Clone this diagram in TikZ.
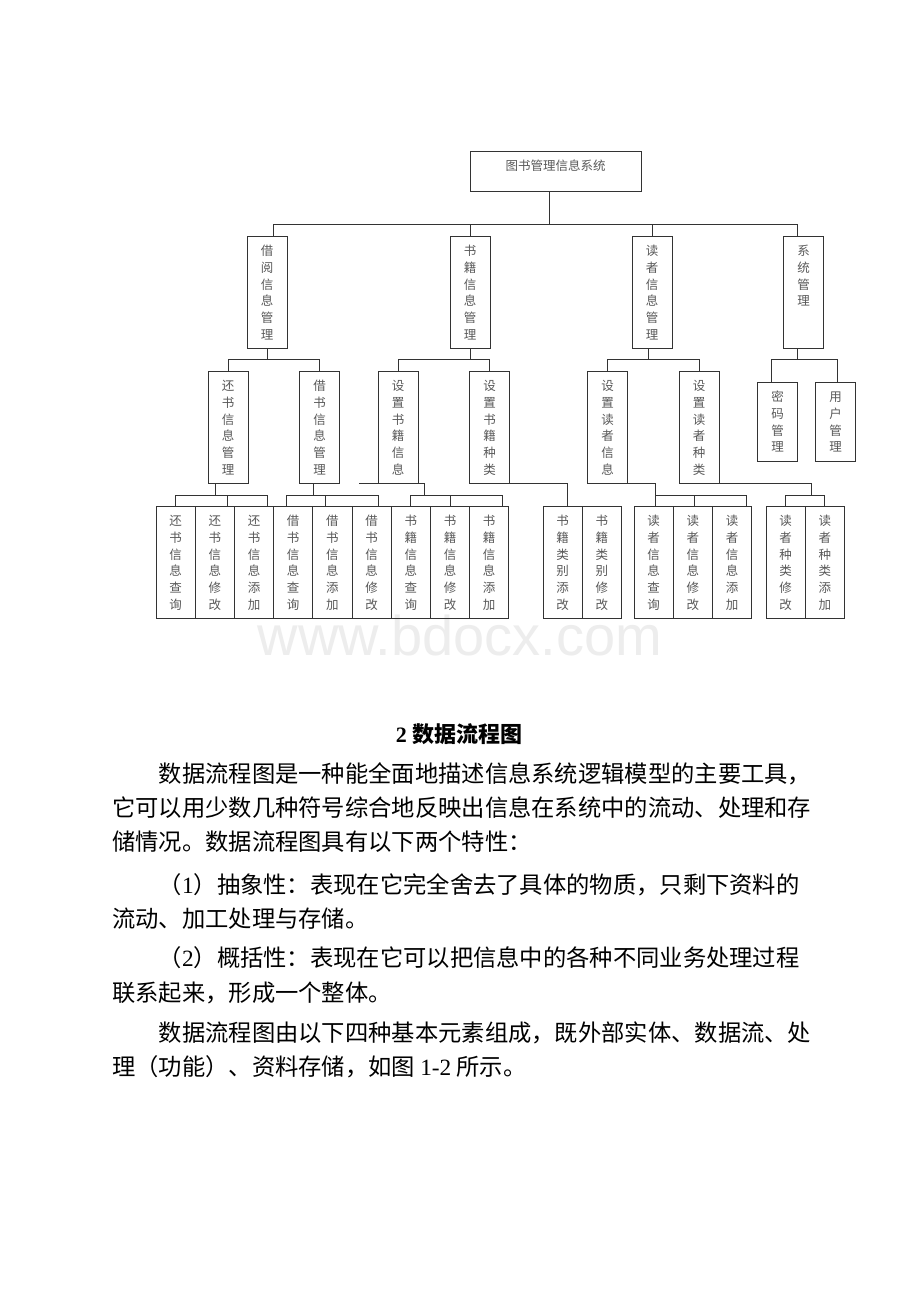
\documentclass[tikz,border=0pt]{standalone}
\usepackage{fontspec}
\setmainfont{Liberation Serif}
\newfontfamily\cjk{Noto Sans CJK SC}
\newfontfamily\wmark{Liberation Sans}
\usepackage{tikz}
\usetikzlibrary{positioning}
\tikzstyle{module} = [rectangle, draw=black!80, line width=1pt, inner sep=0pt, outer sep=0pt, minimum width=40pt, text=black!65, font=\cjk\fontsize{12.5}{16.8}\selectfont]
\tikzstyle{leaf} = [module, minimum width=39.2pt, anchor=north west]
\tikzstyle{link} = [draw=black!80, line width=1pt]
\tikzstyle{para} = [anchor=base west, inner sep=0pt, font=\cjk\fontsize{23.3}{23.3}\selectfont]
\newcommand{\vtxt}[2][112pt]{\parbox[c][#1][t]{16pt}{\centering\rule{0pt}{19.5pt}#2}}

\begin{document}
\begin{tikzpicture}[x=1pt, y=-1pt]
\path[fill=white] (0,0) rectangle (920,1302);

% watermark
\node (wm) [anchor=base, inner sep=0pt, text=black!7, font=\wmark\fontsize{56}{56}\selectfont] at (460,655) {www.bdocx.com};

% top
\node (root) [module, anchor=north, minimum width=171pt] at (555.5,151) {\parbox[c][40pt][t]{171pt}{\centering\rule{0pt}{19.5pt}图书管理信息系统}};

% level 1
\node (jieyue) [module, anchor=north] at (267,236) {\vtxt{借\\阅\\信\\息\\管\\理}};
\node (shuji) [module, anchor=north] at (470,236) {\vtxt{书\\籍\\信\\息\\管\\理}};
\node (duzhe) [module, anchor=north] at (652,236) {\vtxt{读\\者\\信\\息\\管\\理}};
\node (xitong) [module, anchor=north] at (803.5,236) {\vtxt{系\\统\\管\\理}};

% level 2
\node (huanshu) [module, anchor=north] at (228,371) {\vtxt{还\\书\\信\\息\\管\\理}};
\node (jieshu) [module, anchor=north] at (319.5,371) {\vtxt{借\\书\\信\\息\\管\\理}};
\node (szsjxx) [module, anchor=north] at (398,371) {\vtxt{设\\置\\书\\籍\\信\\息}};
\node (szsjzl) [module, anchor=north] at (489.5,371) {\vtxt{设\\置\\书\\籍\\种\\类}};
\node (szdzxx) [module, anchor=north] at (607.5,371) {\vtxt{设\\置\\读\\者\\信\\息}};
\node (szdzzl) [module, anchor=north] at (699,371) {\vtxt{设\\置\\读\\者\\种\\类}};
\node (mima) [module, anchor=north] at (777.5,382) {\vtxt[79pt]{密\\码\\管\\理}};
\node (yonghu) [module, anchor=north] at (835.5,382) {\vtxt[79pt]{用\\户\\管\\理}};

% level 3
\node (hs1) [leaf] at (156,506) {\vtxt{还\\书\\信\\息\\查\\询}};
\node (hs2) [leaf, right=0pt of hs1] {\vtxt{还\\书\\信\\息\\修\\改}};
\node (hs3) [leaf, right=0pt of hs2] {\vtxt{还\\书\\信\\息\\添\\加}};
\node (js1) [leaf, right=0pt of hs3] {\vtxt{借\\书\\信\\息\\查\\询}};
\node (js2) [leaf, right=0pt of js1] {\vtxt{借\\书\\信\\息\\添\\加}};
\node (js3) [leaf, right=0pt of js2] {\vtxt{借\\书\\信\\息\\修\\改}};
\node (sj1) [leaf, right=0pt of js3] {\vtxt{书\\籍\\信\\息\\查\\询}};
\node (sj2) [leaf, right=0pt of sj1] {\vtxt{书\\籍\\信\\息\\修\\改}};
\node (sj3) [leaf, right=0pt of sj2] {\vtxt{书\\籍\\信\\息\\添\\加}};
\node (lb1) [leaf] at (543,506) {\vtxt{书\\籍\\类\\别\\添\\改}};
\node (lb2) [leaf, right=0pt of lb1] {\vtxt{书\\籍\\类\\别\\修\\改}};
\node (dz1) [leaf] at (634,506) {\vtxt{读\\者\\信\\息\\查\\询}};
\node (dz2) [leaf, right=0pt of dz1] {\vtxt{读\\者\\信\\息\\修\\改}};
\node (dz3) [leaf, right=0pt of dz2] {\vtxt{读\\者\\信\\息\\添\\加}};
\node (zl1) [leaf] at (766,506) {\vtxt{读\\者\\种\\类\\修\\改}};
\node (zl2) [leaf, right=0pt of zl1] {\vtxt{读\\者\\种\\类\\添\\加}};

% connectors, level 1
\draw[link] ([xshift=-6.5pt]root.south) -- +(0,33);
\draw[link] ([xshift=6pt]jieyue.north) -- +(0,-12) -| ([xshift=-6.5pt]xitong.north);
\draw[link] (shuji.north) -- +(0,-12);
\draw[link] (duzhe.north) -- +(0,-12);

% connectors, level 2
\draw[link] (jieyue.south) -- +(0,11);
\draw[link] (huanshu.north) -- +(0,-12) -| (jieshu.north);
\draw[link] (shuji.south) -- +(0,11);
\draw[link] (szsjxx.north) -- +(0,-12) -| (szsjzl.north);
\draw[link] ([xshift=-4pt]duzhe.south) -- +(0,11);
\draw[link] (szdzxx.north) -- +(0,-12) -| (szdzzl.north);
\draw[link] ([xshift=-6.5pt]xitong.south) -- +(0,11);
\draw[link] ([xshift=-6.5pt]mima.north) -- +(0,-23) -| ([xshift=1.5pt]yonghu.north);

% connectors, level 3
\draw[link] ([xshift=-13pt]huanshu.south) -- +(0,12);
\draw[link] (hs1.north) -- +(0,-11) -| ([xshift=13pt]hs3.north);
\draw[link] ([xshift=13pt]hs2.north) -- +(0,-11);
\draw[link] ([xshift=-6.5pt]jieshu.south) -- +(0,12);
\draw[link] ([xshift=-6.5pt]js1.north) -- +(0,-11) -| ([xshift=7pt]js3.north);
\draw[link] ([xshift=-7pt]js2.north) -- +(0,-11);
\draw[link] ([xshift=-39pt]szsjxx.south) -- ([xshift=26pt]szsjxx.south) -- +(0,12);
\draw[link] (sj1.north) -- +(0,-11) -| ([xshift=13pt]sj3.north);
\draw[link] (sj2.north) -- +(0,-11);
\draw[link] (szsjzl.south east) -| ([xshift=5pt]lb1.north);
\draw[link] (szdzxx.south east) -- +(28,0) -- +(28,12);
\draw[link] ([xshift=2pt]dz1.north) -- +(0,-11) -| ([xshift=14pt]dz3.north);
\draw[link] ([xshift=1.5pt]dz2.north) -- +(0,-11);
\draw[link] (szdzzl.south east) -- +(92,0) -- +(92,12);
\draw[link] (zl1.north) -- +(0,-11) -| (zl2.north);

% text below
\node (title) [anchor=base, inner sep=0pt, font=\cjk\bfseries\fontsize{22}{22}\selectfont] at (459,742) {{\rmfamily 2} 数据流程图};
\node (p1a) [para] at (158.6,782) {数据流程图是一种能全面地描述信息系统逻辑模型的主要工具，};
\node (p1b) [para] at (112,816) {它可以用少数几种符号综合地反映出信息在系统中的流动、处理和存};
\node (p1c) [para] at (112,850) {储情况。数据流程图具有以下两个特性：};
\node (p2a) [para] at (158.6,893) {（{\rmfamily 1}）抽象性：表现在它完全舍去了具体的物质，只剩下资料的};
\node (p2b) [para] at (112,927) {流动、加工处理与存储。};
\node (p3a) [para] at (158.6,966) {（{\rmfamily 2}）概括性：表现在它可以把信息中的各种不同业务处理过程};
\node (p3b) [para] at (112,1001) {联系起来，形成一个整体。};
\node (p4a) [para] at (158.6,1041) {数据流程图由以下四种基本元素组成，既外部实体、数据流、处};
\node (p4b) [para] at (112,1075) {理（功能）、资料存储，如图 {\rmfamily 1-2} 所示。};
\end{tikzpicture}
\end{document}
